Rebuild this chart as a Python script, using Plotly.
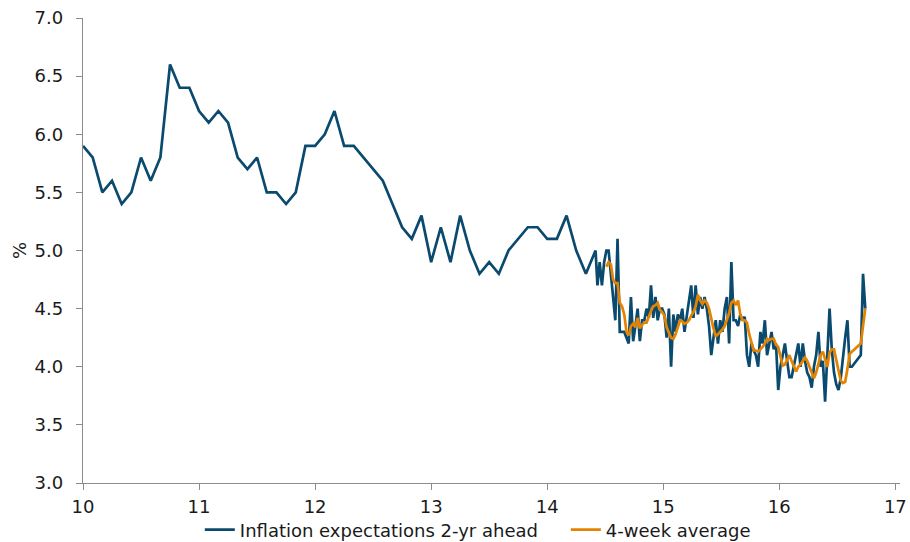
import plotly.graph_objects as go

# Monthly observations (decimal year start and step)
monthly_start = 10.0
monthly_values = [
    5.9, 5.8, 5.5, 5.6, 5.4, 5.5, 5.8, 5.6, 5.8, 6.6, 6.4, 6.4,
    6.2, 6.1, 6.2, 6.1, 5.8, 5.7, 5.8, 5.5, 5.5, 5.4, 5.5, 5.9,
    5.9, 6.0, 6.2, 5.9, 5.9, 5.8, 5.7, 5.6, 5.4, 5.2, 5.1, 5.3,
    4.9, 5.2, 4.9, 5.3, 5.0, 4.8, 4.9, 4.8, 5.0, 5.1, 5.2, 5.2,
    5.1, 5.1, 5.3, 5.0, 4.8, 5.0,
]

# Weekly observations
weekly_start = 14.433
weekly_values = [
    4.7, 4.9, 4.7, 4.9, 5.0, 5.0, 4.8, 4.6, 4.4, 5.1,
    4.3, 4.3, 4.3, 4.25, 4.2, 4.6, 4.22, 4.35, 4.5, 4.22,
    4.4, 4.4, 4.5, 4.42, 4.7, 4.42, 4.6, 4.4, 4.5, 4.5,
    4.45, 4.25, 4.5, 4.0, 4.45, 4.3, 4.45, 4.4, 4.5, 4.3,
    4.42, 4.55, 4.7, 4.42, 4.7, 4.45, 4.6, 4.5, 4.6, 4.5,
    4.35, 4.1, 4.28, 4.4, 4.2, 4.4, 4.3, 4.5, 4.6, 4.2,
    4.9, 4.4, 4.4, 4.35, 4.45, 4.4, 4.43, 4.1, 4.0, 4.2,
    4.14, 4.1, 4.0, 4.3, 4.2, 4.4, 4.1, 4.2, 4.3, 4.15,
    4.2, 3.8, 4.0, 4.1, 4.2, 4.05, 3.91, 3.91, 4.0, 4.1,
    4.2, 4.0, 4.2, 4.05, 3.95, 3.91, 3.82, 4.0, 4.1, 4.3,
    4.0, 4.05, 3.7, 4.1, 4.5, 4.15, 3.95, 3.85, 3.8, 3.9,
    4.1, 4.25, 4.4, 4.0, 4.0, None, None, None, 4.1, 4.8,
    4.5,
]

avg_values = [
    None, None, None, None, 4.86, 4.9, 4.88, 4.75, 4.72, 4.72,
    4.55, 4.52, 4.45, 4.3, 4.27, 4.35, 4.37, 4.34, 4.42, 4.33,
    4.36, 4.38, 4.38, 4.44, 4.48, 4.52, 4.53, 4.55, 4.49, 4.47,
    4.44, 4.34, 4.3, 4.25, 4.24, 4.28, 4.34, 4.4, 4.39, 4.37,
    4.38, 4.4, 4.44, 4.47, 4.52, 4.62, 4.57, 4.54, 4.57, 4.55,
    4.5, 4.4, 4.33, 4.26, 4.28, 4.3, 4.32, 4.35, 4.4, 4.46,
    4.55, 4.57, 4.53, 4.57, 4.45, 4.4, 4.4, 4.38, 4.28, 4.2,
    4.14, 4.14, 4.13, 4.15, 4.17, 4.2, 4.24, 4.23, 4.24, 4.24,
    4.19, 4.17, 4.08, 4.01, 4.02, 4.06, 4.1, 4.05, 4.0, 3.96,
    4.0, 4.02, 4.05, 4.08, 4.05, 4.0, 3.95, 3.9, 3.95, 4.04,
    4.1, 4.13, 4.06, 4.0, 4.12, 4.15, 4.15, 4.05, 3.97, 3.88,
    3.86, 3.87, 3.98, 4.11, 4.13, None, None, None, 4.2, 4.35,
    4.5,
]

x_ticks = [10, 11, 12, 13, 14, 15, 16, 17]
y_ticks = [3.0, 3.5, 4.0, 4.5, 5.0, 5.5, 6.0, 6.5, 7.0]

monthly_x = [monthly_start + i / 12 for i in range(len(monthly_values))]
weekly_x = [weekly_start + i / 52 for i in range(len(weekly_values))]

blue_x = monthly_x + weekly_x
blue_y = monthly_values + weekly_values

BLUE = "#0A4A6E"
ORANGE = "#E38300"
FONT = "DejaVu Sans"
TXT = "#1A1A1A"

fig = go.Figure()
fig.add_trace(go.Scatter(
    x=blue_x, y=blue_y, mode="lines", connectgaps=True,
    name="Inflation expectations 2-yr ahead",
    line=dict(color=BLUE, width=2.7),
))
fig.add_trace(go.Scatter(
    x=weekly_x, y=avg_values, mode="lines", connectgaps=True,
    name="4-week average",
    line=dict(color=ORANGE, width=2.7),
))

fig.update_layout(
    width=910, height=542,
    margin=dict(l=83, r=10, t=18, b=59, autoexpand=False),
    paper_bgcolor="white", plot_bgcolor="white",
    font=dict(family=FONT, size=18, color=TXT),
    showlegend=True,
    legend=dict(
        orientation="h", x=0.143, xanchor="left", y=-0.101, yanchor="middle",
        font=dict(family=FONT, size=18, color=TXT),
        tracegroupgap=0, bgcolor="rgba(0,0,0,0)",
        entrywidth=321, entrywidthmode="pixels",
    ),
    xaxis=dict(
        range=[10, 17.04], tickvals=x_ticks, ticktext=[str(t) for t in x_ticks],
        showgrid=False, zeroline=False, showline=True, linecolor="#8C8C8C", linewidth=1.3,
        ticks="outside", ticklen=6, tickcolor="#8C8C8C", tickwidth=1.3,
        ticklabelstandoff=1, automargin=False,
    ),
    yaxis=dict(
        range=[3.0, 7.0], tickvals=y_ticks, ticktext=[f"{t:.1f}" for t in y_ticks],
        showgrid=False, zeroline=False, showline=True, linecolor="#8C8C8C", linewidth=1.3,
        ticks="outside", ticklen=6, tickcolor="#8C8C8C", tickwidth=1.3,
        ticklabelstandoff=9, automargin=False,
        title=dict(text="%", standoff=3, font=dict(family=FONT, size=18, color=TXT)),
    ),
)

fig.write_html(
    "out.html",
    config={"displayModeBar": False},
    post_script="document.body.style.margin='0';",
)
